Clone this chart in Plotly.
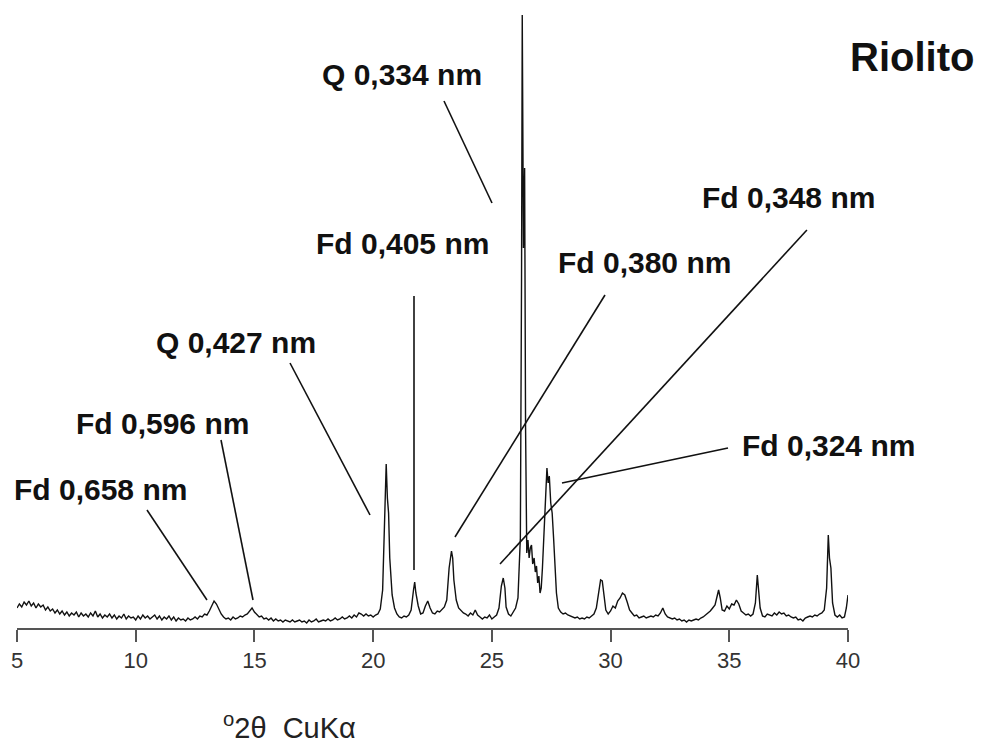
import plotly.graph_objects as go

# ---- data: 2-theta (deg) and intensity (counts) ----
two_theta = [
    5.0, 5.1, 5.2, 5.3, 5.4, 5.5, 5.6, 5.7, 5.8, 5.9, 6.0, 6.1, 6.2, 6.3, 6.4, 6.5, 6.6, 6.7, 6.8, 6.9,
    7.0, 7.1, 7.2, 7.3, 7.4, 7.5, 7.6, 7.7, 7.8, 7.9, 8.0, 8.1, 8.2, 8.3, 8.4, 8.5, 8.6, 8.7, 8.8, 8.9,
    9.0, 9.1, 9.2, 9.3, 9.4, 9.5, 9.6, 9.7, 9.8, 9.9, 10.0, 10.1, 10.2, 10.3, 10.4, 10.5, 10.6, 10.7, 10.8, 10.9,
    11.0, 11.1, 11.2, 11.3, 11.4, 11.5, 11.6, 11.7, 11.8, 11.9, 12.0, 12.1, 12.2, 12.3, 12.4, 12.5, 12.6, 12.7, 12.8, 12.9,
    13.0, 13.1, 13.2, 13.3, 13.4, 13.5, 13.6, 13.7, 13.8, 13.9, 14.0, 14.1, 14.2, 14.3, 14.4, 14.5, 14.6, 14.7, 14.8, 14.9,
    15.0, 15.1, 15.2, 15.3, 15.4, 15.5, 15.6, 15.7, 15.8, 15.9, 16.0, 16.1, 16.2, 16.3, 16.4, 16.5, 16.6, 16.7, 16.8, 16.9,
    17.0, 17.1, 17.2, 17.3, 17.4, 17.5, 17.6, 17.7, 17.8, 17.9, 18.0, 18.1, 18.2, 18.3, 18.4, 18.5, 18.6, 18.7, 18.8, 18.9,
    19.0, 19.1, 19.2, 19.3, 19.4, 19.5, 19.6, 19.7, 19.8, 19.9, 20.0, 20.1, 20.2, 20.3, 20.4, 20.5, 20.55, 20.6, 20.65, 20.7,
    20.8, 20.9, 21.0, 21.1, 21.2, 21.3, 21.4, 21.5, 21.6, 21.7, 21.75, 21.8, 21.9, 22.0, 22.1, 22.2, 22.3, 22.4, 22.5, 22.6,
    22.7, 22.8, 22.9, 23.0, 23.1, 23.2, 23.3, 23.35, 23.4, 23.5, 23.6, 23.7, 23.8, 23.9, 24.0, 24.1, 24.2, 24.3, 24.4, 24.5,
    24.6, 24.7, 24.8, 24.9, 25.0, 25.1, 25.2, 25.3, 25.4, 25.48, 25.55, 25.6, 25.7, 25.8, 25.9, 26.0, 26.1, 26.2, 26.25, 26.28,
    26.33, 26.38, 26.42, 26.47, 26.52, 26.57, 26.62, 26.67, 26.72, 26.78, 26.83, 26.88, 26.93, 26.98, 27.03, 27.08, 27.13, 27.2, 27.27, 27.32,
    27.37, 27.42, 27.48, 27.54, 27.6, 27.66, 27.72, 27.8, 27.9, 28.0, 28.1, 28.2, 28.3, 28.4, 28.5, 28.6, 28.7, 28.8, 28.9, 29.0,
    29.1, 29.2, 29.3, 29.4, 29.5, 29.58, 29.65, 29.72, 29.8, 29.9, 30.0, 30.1, 30.2, 30.3, 30.4, 30.5, 30.6, 30.7, 30.8, 30.9,
    31.0, 31.1, 31.2, 31.3, 31.4, 31.5, 31.6, 31.7, 31.8, 31.9, 32.0, 32.1, 32.2, 32.3, 32.4, 32.5, 32.6, 32.7, 32.8, 32.9,
    33.0, 33.1, 33.2, 33.3, 33.4, 33.5, 33.6, 33.7, 33.8, 33.9, 34.0, 34.1, 34.2, 34.3, 34.4, 34.5, 34.55, 34.62, 34.7, 34.8,
    34.9, 35.0, 35.1, 35.2, 35.3, 35.4, 35.5, 35.6, 35.7, 35.8, 35.9, 36.0, 36.1, 36.18, 36.22, 36.3, 36.4, 36.5, 36.6, 36.7,
    36.8, 36.9, 37.0, 37.1, 37.2, 37.3, 37.4, 37.5, 37.6, 37.7, 37.8, 37.9, 38.0, 38.1, 38.2, 38.3, 38.4, 38.5, 38.6, 38.7,
    38.8, 38.9, 39.0, 39.1, 39.17, 39.22, 39.28, 39.35, 39.45, 39.55, 39.65, 39.75, 39.85, 39.93, 40.0,
]
intensity = [
    200, 240, 210, 260, 230, 270, 220, 250, 200, 240, 210, 230, 180, 210, 170, 190, 150, 180, 140, 170,
    130, 160, 120, 150, 130, 160, 110, 150, 120, 140, 110, 150, 120, 170, 110, 140, 100, 130, 110, 140,
    100, 130, 90, 120, 100, 140, 90, 120, 100, 110, 80, 120, 90, 130, 100, 120, 90, 110, 130, 90,
    120, 80, 110, 90, 120, 80, 110, 70, 100, 80, 90, 70, 100, 80, 90, 110, 90, 120, 110, 140,
    130, 170, 230, 270, 240, 180, 140, 110, 90, 100, 80, 110, 90, 100, 120, 110, 130, 140, 170, 200,
    160, 130, 110, 120, 90, 100, 80, 100, 70, 90, 70, 80, 60, 80, 70, 60, 80, 60, 70, 80,
    60, 70, 50, 80, 60, 70, 90, 60, 70, 80, 70, 90, 70, 80, 100, 80, 90, 110, 90, 100,
    120, 100, 130, 110, 150, 140, 120, 140, 120, 130, 110, 130, 140, 190, 380, 1100, 1640, 1300, 1150, 700,
    330, 200, 140, 110, 100, 120, 110, 130, 180, 380, 460, 350, 220, 140, 150, 220, 270, 200, 150, 140,
    170, 160, 190, 210, 280, 600, 770, 700, 480, 280, 200, 170, 150, 140, 120, 150, 130, 180, 130, 110,
    90, 110, 100, 130, 90, 110, 130, 200, 420, 500, 400, 210, 140, 120, 160, 200, 300, 900, 3500, 6130,
    3800, 4600, 2000, 750, 880, 700, 800, 830, 640, 700, 560, 620, 450, 520, 350, 400, 600, 1000, 1450, 1600,
    1450, 1520, 1250, 1150, 900, 600, 350, 200, 160, 140, 150, 130, 120, 110, 100, 110, 90, 100, 90, 110,
    100, 120, 140, 200, 380, 480, 470, 320, 180, 140, 170, 220, 200, 270, 300, 350, 330, 260, 180, 150,
    120, 130, 100, 110, 120, 100, 110, 120, 110, 130, 120, 150, 200, 140, 110, 100, 90, 100, 80, 90,
    70, 80, 60, 80, 70, 80, 90, 80, 100, 110, 130, 150, 170, 200, 230, 330, 380, 300, 180, 170,
    220, 190, 240, 230, 280, 240, 170, 150, 130, 140, 120, 140, 250, 530, 420, 200, 120, 110, 140, 130,
    120, 150, 130, 160, 140, 150, 120, 130, 110, 100, 110, 80, 90, 70, 100, 110, 120, 110, 130, 120,
    140, 150, 180, 400, 930, 700, 600, 250, 130, 110, 130, 100, 110, 200, 330,
]

x_ticks = [5, 10, 15, 20, 25, 30, 35, 40]

peak_labels = ["Fd 0,658 nm", "Fd 0,596 nm", "Q 0,427 nm", "Fd 0,405 nm",
               "Q 0,334 nm", "Fd 0,380 nm", "Fd 0,348 nm", "Fd 0,324 nm"]
# leader line ends (data units): start near label, end near peak
lead_x0 = [10.475, 13.592, 16.498, 21.721, 22.984, 29.765, 38.27, 34.946]
lead_y0 = [1180, 1880, 2650, 3320, 5270, 3330, 3980, 1800]
lead_x1 = [13.002, 14.940, 19.868, 21.721, 25.006, 23.447, 25.343, 27.954]
lead_y1 = [280, 280, 1130, 580, 4250, 910, 640, 1450]

# ---- layout geometry (page body has an 8 px margin, so the figure is offset) ----
OFF = 8
W, H = 992 - OFF, 738 - OFF
ML, MR, MT, MB = 17 - OFF, 144, 0, 110
PW, PH = W - ML - MR, H - MT - MB


def px(xp):
    return (xp - OFF - ML) / PW


def py(yp):
    return (H - MB - (yp - OFF)) / PH


# label centres in reference-picture pixels
label_px = [(100, 489), (162, 423), (236, 342), (402, 243),
            (402, 75), (644, 263), (788, 198), (828, 445)]

fig = go.Figure()
fig.add_trace(go.Scatter(x=two_theta, y=intensity, mode="lines",
                         line=dict(color="#111111", width=1.4),
                         hoverinfo="skip", showlegend=False))

shapes = []
for x0, y0, x1, y1 in zip(lead_x0, lead_y0, lead_x1, lead_y1):
    shapes.append(dict(type="line", xref="x", yref="y", x0=x0, y0=y0, x1=x1, y1=y1,
                       line=dict(color="#111111", width=1.6)))

annotations = []
bold_font = dict(family="Liberation Sans, Arial, sans-serif", size=30, color="#111111")
for txt, (xp, yp) in zip(peak_labels, label_px):
    annotations.append(dict(text="<b>%s</b>" % txt, xref="paper", yref="paper",
                            x=px(xp), y=py(yp), xanchor="center", yanchor="middle",
                            showarrow=False, font=bold_font))
annotations.append(dict(text="<b>Riolito</b>", xref="paper", yref="paper",
                        x=px(912), y=py(57), xanchor="center", yanchor="middle",
                        showarrow=False,
                        font=dict(family="Liberation Sans, Arial, sans-serif", size=40, color="#111111")))
annotations.append(dict(text="<sup>o</sup>2θ  CuKα", xref="paper", yref="paper",
                        x=px(289), y=py(726), xanchor="center", yanchor="middle",
                        showarrow=False,
                        font=dict(family="Liberation Sans, Arial, sans-serif", size=29, color="#222222")))

fig.update_layout(
    width=W, height=H,
    margin=dict(l=ML, r=MR, t=MT, b=MB, pad=0, autoexpand=False),
    paper_bgcolor="white", plot_bgcolor="white",
    shapes=shapes, annotations=annotations,
    xaxis=dict(range=[5, 40], tickvals=x_ticks, ticktext=[str(t) for t in x_ticks],
               showline=True, linecolor="#555555", linewidth=2,
               ticks="outside", ticklen=12, tickwidth=2, tickcolor="#555555",
               showgrid=False, zeroline=False,
               tickfont=dict(family="Liberation Sans, Arial, sans-serif", size=22, color="#333333")),
    yaxis=dict(range=[0, 6200], visible=False, showgrid=False, zeroline=False),
)

fig.write_html("out.html")
